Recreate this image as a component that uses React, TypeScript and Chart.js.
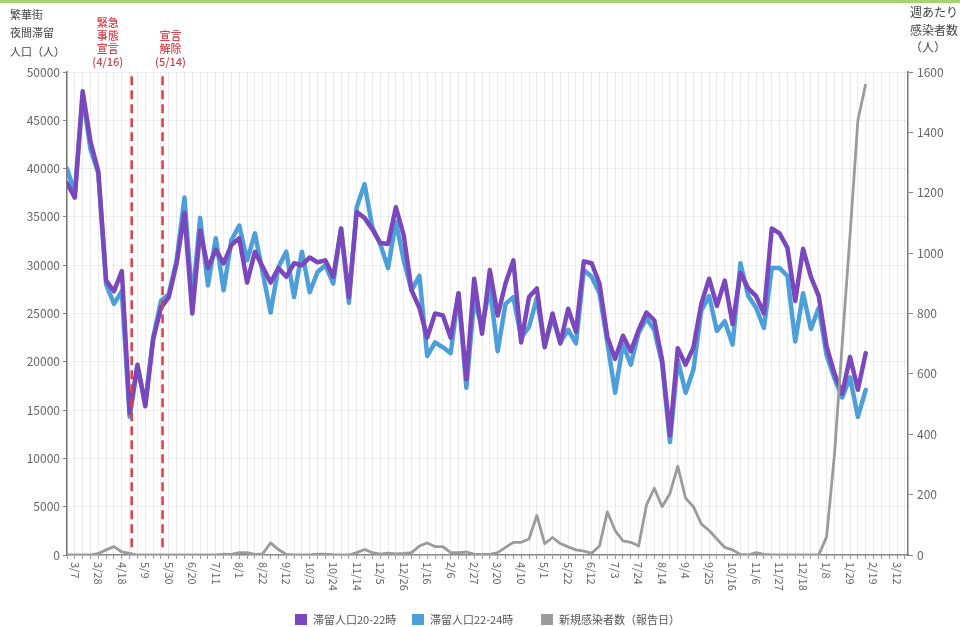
import React, { useEffect, useRef } from 'react';
import { Chart, registerables } from 'chart.js';

Chart.register(...registerables);

// Weekly index 0 = week of 2020/2/29. Tick labels every 3 weeks starting at index 1.
const tickLabels = ['3/7', '3/28', '4/18', '5/9', '5/30', '6/20', '7/11', '8/1', '8/22', '9/12', '10/3', '10/24', '11/14', '12/5', '12/26', '1/16', '2/6', '2/27', '3/20', '4/10', '5/1', '5/22', '6/12', '7/3', '7/24', '8/14', '9/4', '9/25', '10/16', '11/6', '11/27', '12/18', '1/8', '1/29', '2/19', '3/12'];
const firstLabelWeek = 1;
const labelEvery = 3;

// 滞留人口20-22時
const stay2022 = [
  38500, 37000, 48000, 42800, 39700, 28400, 27300, 29400, 14700, 19700,
  15400, 22300, 25600, 26700, 30200, 35400, 25000, 33600, 29700, 31600,
  30200, 32100, 32800, 28200, 31400, 29800, 28200, 29700, 28800, 30200,
  30000, 30800, 30300, 30500, 28800, 33800, 26700, 35500, 34900, 33700,
  32300, 32200, 36000, 33100, 27400, 25600, 22500, 25000, 24800, 22500,
  27100, 18200, 28600, 22900, 29500, 24800, 28100, 30500, 22000, 26700,
  27600, 21500, 25000, 21900, 25500, 23100, 30400, 30200, 28100, 22600,
  20300, 22700, 21100, 23300, 25100, 24300, 20200, 12400, 21400, 19700,
  21500, 26000, 28600, 25800, 28400, 23900, 29200, 27600, 26800, 25000,
  33800, 33300, 31800, 26300, 31700, 28800, 26800, 21600, 18800, 16700,
  20500, 17100, 20900,
];

// 滞留人口22-24時
const stay2224 = [
  40000, 37500, 47500, 42000, 39500, 28000, 26000, 27300, 14300, 19500,
  15700, 22500, 26300, 27000, 30500, 37000, 26300, 34900, 27900, 32800,
  27400, 32600, 34100, 30500, 33300, 29200, 25100, 29800, 31400, 26700,
  31400, 27200, 29300, 30000, 28100, 33800, 26100, 36000, 38400, 33900,
  32200, 29700, 34500, 30500, 27400, 28900, 20600, 22000, 21500, 20900,
  27100, 17300, 26400, 23600, 27700, 21100, 26000, 26700, 22500, 23600,
  26600, 21700, 24600, 22000, 23300, 21900, 29500, 28800, 27100, 22000,
  16800, 21800, 19700, 23000, 24500, 23300, 19800, 11700, 20200, 16800,
  19200, 25300, 26800, 23200, 24200, 21800, 30200, 26800, 25600, 23500,
  29700, 29700, 28900, 22100, 27100, 23400, 25600, 20700, 18300, 16300,
  18400, 14300, 17100,
];

// 新規感染者数（報告日） 週あたり
const newCases = [
  0, 0, 0, 0, 5, 17, 28, 10, 5, 0,
  0, 0, 0, 0, 0, 0, 0, 0, 0, 0,
  3, 2, 8, 8, 2, 4, 40, 18, 2, 0,
  0, 0, 3, 3, 1, 0, 0, 8, 18, 8,
  3, 6, 4, 5, 8, 30, 40, 28, 28, 8,
  8, 10, 3, 2, 2, 8, 25, 42, 42, 53,
  131, 38, 58, 38, 27, 17, 13, 6, 30, 143,
  81, 47, 42, 30, 165, 221, 160, 204, 294, 188,
  160, 103, 81, 53, 25, 17, 2, 0, 8, 2,
  0, 0, 0, 0, 0, 0, 0, 60, 330, 700,
  1060, 1440, 1560,
];

// 緊急事態宣言 (4/16) / 宣言解除 (5/14) — positions on the week axis
const eventWeeks = [8.26, 12.2];
const eventTexts = [['緊急', '事態', '宣言', '(4/16)'], ['宣言', '解除', '(5/14)']];
const eventRange = [800, 49900];

const seriesNames = ['滞留人口20-22時', '滞留人口22-24時', '新規感染者数（報告日）'];
const leftTitle = ['繁華街', '夜間滞留', '人口（人）'];
const rightTitle = ['週あたり', '感染者数', '（人）'];

const PURPLE = '#7b47bd';
const BLUE = '#4d9fda';
const GRAY = '#9b9b9b';
const RED = '#d9404a';
const FONT = '"Noto Sans CJK JP", "Noto Sans", sans-serif';

const toPts = (arr: number[]) => arr.map((v, i) => ({ x: i, y: v }));

export default function App() {
  const ref = useRef<HTMLCanvasElement>(null);

  useEffect(() => {
    const canvas = ref.current;
    if (!canvas) return;

    const overlay = {
      id: 'overlay',
      beforeDraw(chart: any) {
        const ctx = chart.ctx;
        ctx.save();
        ctx.fillStyle = '#ffffff';
        ctx.fillRect(0, 0, chart.width, chart.height);
        ctx.fillStyle = '#a3d46f';
        ctx.fillRect(0, 0, chart.width, 3);
        ctx.restore();
      },
      afterDraw(chart: any) {
        const ctx = chart.ctx;
        const xs = chart.scales.x;
        const area = chart.chartArea;
        ctx.save();
        // axis titles
        ctx.fillStyle = '#444';
        ctx.textBaseline = 'middle';
        ctx.textAlign = 'left';
        ctx.font = `11px ${FONT}`;
        const ly = [15, 33, 52];
        leftTitle.forEach((t, i) => ctx.fillText(t, 10, ly[i]));
        ctx.font = `12px ${FONT}`;
        const ry = [12, 30, 47];
        rightTitle.forEach((t, i) => ctx.fillText(t, 910, ry[i]));

        // event annotation texts
        ctx.fillStyle = RED;
        ctx.textAlign = 'center';
        ctx.font = `500 11px ${FONT}`;
        const offsets = [-24, 8];
        eventTexts.forEach((lines, k) => {
          const px = xs.getPixelForValue(eventWeeks[k]) + offsets[k];
          const start = 62 - (lines.length - 1) * 13;
          lines.forEach((t, j) => ctx.fillText(t, px, start + j * 13));
        });

        // x tick labels (rotated clockwise)
        ctx.fillStyle = '#666';
        ctx.font = `11px ${FONT}`;
        ctx.textAlign = 'left';
        ctx.textBaseline = 'middle';
        tickLabels.forEach((t, k) => {
          const w = firstLabelWeek + k * labelEvery;
          const px = xs.getPixelForValue(w);
          ctx.save();
          ctx.translate(px, area.bottom + 7);
          ctx.rotate(Math.PI / 2);
          ctx.fillText(t, 0, 0);
          ctx.restore();
        });

        // legend
        const colors = [PURPLE, BLUE, GRAY];
        const lx = [295, 412, 541];
        ctx.font = `11px ${FONT}`;
        ctx.textAlign = 'left';
        ctx.textBaseline = 'middle';
        seriesNames.forEach((n, i) => {
          ctx.fillStyle = colors[i];
          ctx.fillRect(lx[i], 614, 12, 11);
          ctx.fillStyle = '#555';
          ctx.fillText(n, lx[i] + 18, 620);
        });
        ctx.restore();
      },
    };

    const eventSets = eventWeeks.map((w) => ({
      label: 'event',
      data: [{ x: w, y: eventRange[0] }, { x: w, y: eventRange[1] }],
      borderColor: RED,
      borderWidth: 2.5,
      borderDash: [9, 5],
      pointRadius: 0,
      yAxisID: 'y',
      order: 0,
    }));

    const chart = new Chart(canvas, {
      type: 'line',
      data: {
        datasets: [
          {
            label: seriesNames[0],
            data: toPts(stay2022),
            borderColor: PURPLE,
            backgroundColor: PURPLE,
            borderWidth: 4.5,
            pointRadius: 0,
            tension: 0,
            borderJoinStyle: 'round',
            borderCapStyle: 'round',
            yAxisID: 'y',
            order: 2,
          },
          {
            label: seriesNames[1],
            data: toPts(stay2224),
            borderColor: BLUE,
            backgroundColor: BLUE,
            borderWidth: 4.5,
            pointRadius: 0,
            tension: 0,
            borderJoinStyle: 'round',
            borderCapStyle: 'round',
            yAxisID: 'y',
            order: 3,
          },
          {
            label: seriesNames[2],
            data: toPts(newCases),
            borderColor: GRAY,
            backgroundColor: GRAY,
            borderWidth: 2.8,
            pointRadius: 0,
            tension: 0,
            borderJoinStyle: 'round',
            yAxisID: 'y2',
            order: 1,
          },
          ...eventSets,
        ] as any,
      },
      options: {
        responsive: false,
        animation: false,
        events: [],
        layout: { padding: { top: 72, left: 0, right: 0, bottom: 0 } },
        plugins: {
          legend: { display: false },
          tooltip: { enabled: false },
          title: { display: false },
        },
        scales: {
          x: {
            type: 'linear',
            min: 0,
            max: 107.4,
            afterFit: (s: any) => { s.height = 72; },
            ticks: { display: false, stepSize: 1, autoSkip: false, includeBounds: false },
            grid: { color: 'rgba(0,0,0,0.075)', tickColor: '#999', tickLength: 4, drawTicks: true },
            border: { display: true, color: '#888', width: 1.5 },
          },
          y: {
            type: 'linear',
            position: 'left',
            min: 0,
            max: 50000,
            afterFit: (s: any) => { s.width = 67; },
            ticks: {
              stepSize: 5000,
              color: '#666',
              padding: 3,
              font: { family: FONT, size: 12 },
              callback: (v: any) => String(v),
            },
            grid: { color: 'rgba(0,0,0,0.06)', tickColor: '#888', tickLength: 4 },
            border: { display: true, color: '#777', width: 1.5 },
          },
          y2: {
            type: 'linear',
            position: 'right',
            min: 0,
            max: 1600,
            afterFit: (s: any) => { s.width = 52; },
            ticks: {
              stepSize: 200,
              color: '#666',
              padding: 4,
              font: { family: FONT, size: 12 },
              callback: (v: any) => String(v),
            },
            grid: { drawOnChartArea: false, tickColor: '#888', tickLength: 5 },
            border: { display: true, color: '#777', width: 1.5 },
          },
        },
      } as any,
      plugins: [overlay],
    });

    return () => chart.destroy();
  }, []);

  return (
    <div style={{ position: 'fixed', left: 0, top: 0, width: 960, height: 627, background: '#fff' }}>
      <canvas ref={ref} width={960} height={627} style={{ display: 'block' }} />
    </div>
  );
}
